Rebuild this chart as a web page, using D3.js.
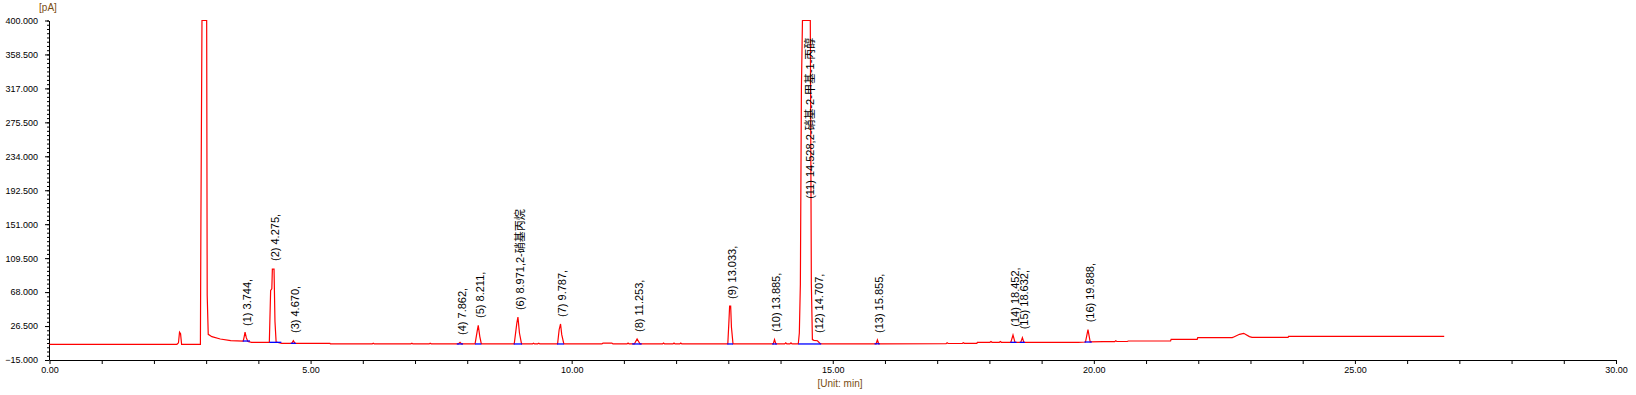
<!DOCTYPE html>
<html>
<head>
<meta charset="utf-8">
<script src="https://cdn.jsdelivr.net/npm/d3@7"></script>
<style>
  html, body { margin: 0; padding: 0; background: #fff; }
  svg { display: block; }
  text { font-family: "Liberation Sans", Arial, "Noto Sans CJK SC", sans-serif; }
</style>
</head>
<body>
<div id="chart"></div>
<script>
// ---- chromatogram data (retention time in min, signal in pA) ----
const trace = [
  [0, 4.2], [2.44, 4.2], [2.47, 6], [2.49, 19], [2.51, 17], [2.53, 4.2],
  [2.89, 4.2], [2.90, 158], [2.92, 400], [3.01, 400], [3.02, 64.5], [3.04, 16.4],
  [3.11, 13.5], [3.27, 10.7], [3.47, 8.6], [3.71, 8.2], [3.73, 14], [3.745, 19],
  [3.77, 12], [3.80, 7.5], [3.87, 6.6], [4.21, 6.6], [4.235, 70], [4.258, 72],
  [4.268, 96], [4.30, 96], [4.318, 32], [4.34, 7], [4.45, 5.4], [4.64, 5.4],
  [4.67, 8.6], [4.70, 5.4], [5.37, 5.4], [5.38, 4.6], [6.18, 4.6], [6.20, 5.5],
  [6.22, 4.6], [6.92, 4.6], [6.94, 5.5], [6.96, 4.6], [7.27, 4.6], [7.29, 5.5],
  [7.31, 4.6], [7.83, 4.6], [7.862, 6.6], [7.89, 4.6], [8.15, 4.6], [8.19, 20],
  [8.211, 27.4], [8.24, 14], [8.27, 4.6], [8.90, 4.6], [8.95, 30], [8.971, 37.5],
  [9.00, 18], [9.04, 4.6], [9.25, 4.6], [9.27, 5.5], [9.29, 4.6], [9.35, 4.6],
  [9.37, 5.5], [9.39, 4.6], [9.73, 4.6], [9.76, 22], [9.787, 29], [9.81, 16],
  [9.85, 4.6], [10.58, 4.6], [10.60, 5.6], [10.77, 5.6], [10.79, 4.6], [11.06, 4.6],
  [11.08, 5.8], [11.10, 4.6], [11.20, 4.6], [11.253, 10.7], [11.31, 4.6], [11.74, 4.6],
  [11.76, 5.8], [11.78, 4.6], [11.94, 4.6], [11.96, 5.8], [11.98, 4.6], [12.07, 4.6],
  [12.09, 5.8], [12.11, 4.6], [12.99, 4.6], [13.01, 30], [13.025, 51], [13.045, 51],
  [13.06, 25], [13.09, 4.6], [13.86, 4.6], [13.885, 10], [13.91, 4.6], [14.08, 4.6],
  [14.10, 6], [14.12, 4.6], [14.18, 4.6], [14.20, 6], [14.22, 4.6], [14.34, 4.6],
  [14.36, 18], [14.38, 78], [14.40, 318], [14.42, 400], [14.57, 400], [14.59, 79],
  [14.61, 10], [14.64, 9], [14.707, 8.5], [14.76, 5], [14.80, 4.8], [15.83, 4.8],
  [15.855, 9.5], [15.88, 4.8], [17.17, 5.0], [17.19, 6], [17.21, 5.2], [17.48, 5.2],
  [17.50, 6.2], [17.52, 5.4], [17.76, 5.4], [17.77, 6.6], [18.01, 6.6], [18.03, 7.5],
  [18.05, 6.6], [18.19, 6.6], [18.21, 7.5], [18.23, 6.6], [18.41, 6.6], [18.452, 15.6],
  [18.49, 6.6], [18.60, 6.6], [18.632, 12.3], [18.66, 6.6], [19.70, 6.6], [19.84, 7],
  [19.888, 22], [19.93, 7.2], [20.18, 7.4], [20.40, 7.4], [20.42, 8.4], [20.44, 7.6],
  [20.64, 7.6], [20.66, 8.2], [21.47, 8.4], [21.48, 10.3], [21.98, 10.3], [21.99, 12.3],
  [22.65, 12.3], [22.68, 13.2], [22.79, 16.4], [22.87, 17.6], [22.98, 13.6], [23.03, 12.7],
  [23.72, 12.7], [23.73, 14.0], [26.71, 14.0]
];

// integration baselines: [start, end, level]
const baselines = [
  [3.70, 3.84, 8.2], [4.21, 4.44, 6.6], [4.62, 4.72, 5.4], [7.80, 7.92, 4.6],
  [8.15, 8.27, 4.6], [8.89, 9.05, 4.6], [9.72, 9.85, 4.6], [11.16, 11.34, 4.6],
  [12.98, 13.09, 4.6], [13.84, 13.93, 4.6], [14.34, 14.78, 4.6], [15.80, 15.90, 4.8],
  [18.40, 18.52, 6.6], [18.58, 18.68, 6.6], [19.82, 19.96, 7.0]
];

// peak labels
const peakTimes = [3.744, 4.275, 4.670, 7.862, 8.211, 8.971, 9.787, 11.253,
  13.033, 13.885, 14.528, 14.707, 15.855, 18.452, 18.632, 19.888];
const peakNames = ["", "", "", "", "", "2-硝基丙烷", "", "", "", "", "2-硝基-2-甲基-1-丙醇",
  "", "", "", "", ""];
const labelLevels = [26.6, 106, 18, 15.6, 36.4, 46, 37.6, 19.2, 59.6, 19.2, 182,
  18, 18, 25.7, 22.5, 31];

const xTicks = d3.range(0, 31, 1);
const yMajor = d3.range(0, 11).map(i => -15 + i * 41.5);
const yMinor = d3.range(0, 81).map(i => -15 + i * 41.5 / 8);

// ---- layout ----
const width = 1636;
const height = 395;

const svg = d3.select("#chart").append("svg")
  .attr("width", width)
  .attr("height", height)
  .style("background", "#fff");

const x = d3.scaleLinear().domain([0, 30]).range([49.5, 1616]);
const y = d3.scaleLinear().domain([-15, 400]).range([360, 20.5]);

// axes
const xAxis = d3.axisBottom(x)
  .tickValues(xTicks)
  .tickSize(4)
  .tickSizeOuter(0)
  .tickPadding(3)
  .tickFormat(d => d % 5 === 0 ? d3.format(".2f")(d) : "");

svg.append("g")
  .attr("transform", "translate(0,360)")
  .call(xAxis)
  .call(g => g.selectAll("text").attr("font-size", 9).attr("fill", "#000")
    .attr("font-family", "'Liberation Sans', Arial, sans-serif"))
  .call(g => g.selectAll("line,path").attr("stroke", "#000"));

svg.append("g")
  .attr("transform", "translate(49,0)")
  .call(d3.axisLeft(y).tickValues(yMinor).tickSize(2).tickSizeOuter(0).tickFormat(""))
  .call(g => g.select(".domain").remove())
  .call(g => g.selectAll("line").attr("stroke", "#000"));

svg.append("g")
  .attr("transform", "translate(49,0)")
  .call(d3.axisLeft(y).tickValues(yMajor).tickSize(4).tickSizeOuter(0)
    .tickPadding(7).tickFormat(d3.format(".3f")))
  .call(g => g.selectAll("text").attr("font-size", 9).attr("fill", "#000")
    .attr("font-family", "'Liberation Sans', Arial, sans-serif"))
  .call(g => g.selectAll("line,path").attr("stroke", "#000"));

// unit labels
svg.append("text")
  .attr("x", 48).attr("y", 11)
  .attr("text-anchor", "middle")
  .attr("font-size", 10)
  .attr("fill", "#7a4e12")
  .text("[pA]");

svg.append("text")
  .attr("x", 840).attr("y", 387)
  .attr("text-anchor", "middle")
  .attr("font-size", 10)
  .attr("fill", "#7a4e12")
  .text("[Unit: min]");

// trace
const line = d3.line()
  .x(d => x(d[0]))
  .y(d => y(d[1]));

svg.append("path")
  .datum(trace)
  .attr("fill", "none")
  .attr("stroke", "#ff0000")
  .attr("stroke-width", 1.2)
  .attr("d", line);

// integration baselines
svg.append("g")
  .selectAll("line")
  .data(baselines)
  .join("line")
  .attr("x1", d => x(d[0]))
  .attr("x2", d => x(d[1]))
  .attr("y1", d => y(d[2]))
  .attr("y2", d => y(d[2]))
  .attr("stroke", "#0000ff")
  .attr("stroke-width", 1.3);

// peak labels
svg.append("g")
  .selectAll("text")
  .data(peakTimes)
  .join("text")
  .attr("transform", (d, i) => `translate(${x(d) + 1.5},${y(labelLevels[i])}) rotate(-90)`)
  .attr("dy", "0.4em")
  .attr("font-size", 11)
  .attr("fill", "#000")
  .text((d, i) => `(${i + 1}) ${d.toFixed(3)},${peakNames[i]}`);
</script>
</body>
</html>
